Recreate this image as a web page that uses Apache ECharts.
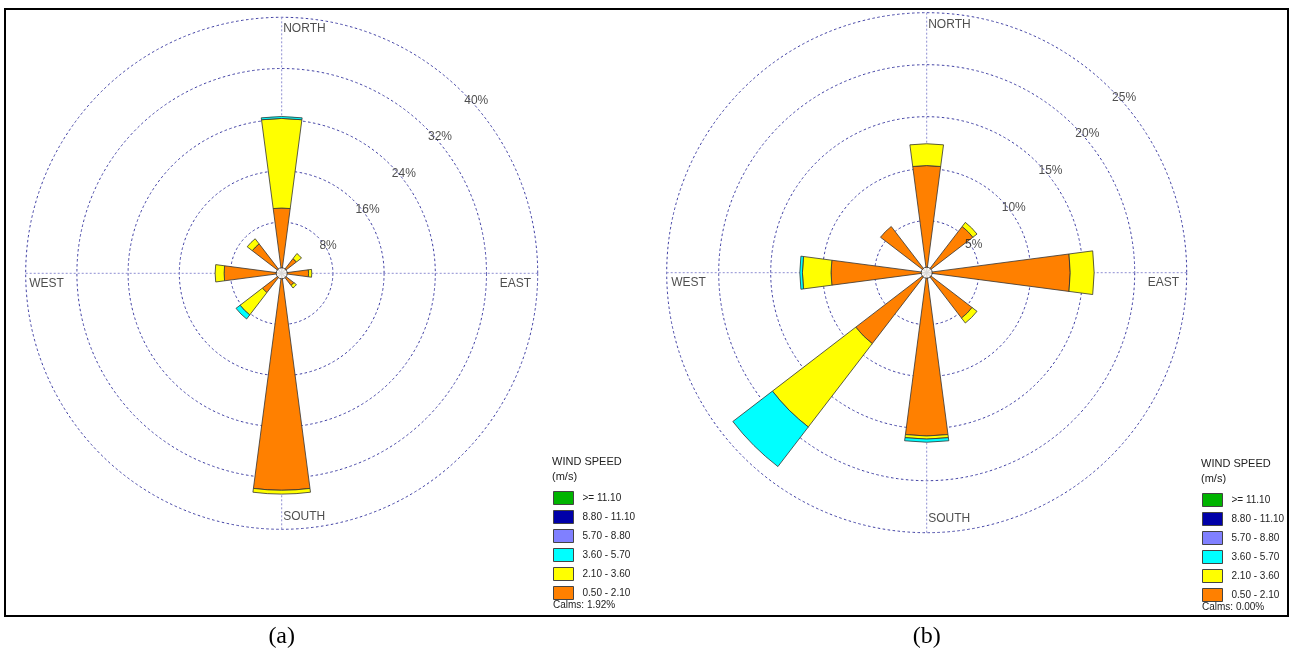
<!DOCTYPE html>
<html>
<head>
<meta charset="utf-8">
<script src="https://cdn.jsdelivr.net/npm/echarts@6/dist/echarts.min.js"></script>
<style>
  html, body { margin: 0; padding: 0; background: #ffffff; }
  #chart { width: 1293px; height: 653px; }
</style>
</head>
<body>
<div id="chart"></div>
<script>
// Compass sectors (clockwise from north) and their printed names
const directions = ['N', 'NE', 'E', 'SE', 'S', 'SW', 'W', 'NW'];
const compassNames = { N: 'NORTH', E: 'EAST', S: 'SOUTH', W: 'WEST' };

// Wind speed classes (m/s), innermost first
const speedClasses = ['0.50 - 2.10', '2.10 - 3.60', '3.60 - 5.70', '5.70 - 8.80', '8.80 - 11.10', '>= 11.10'];
const speedColors  = ['#FF8000', '#FFFF00', '#00FFFF', '#8080FF', '#0000A8', '#00B400'];

// Rose (a): frequency (%) per direction for each speed class
const a_0050_0210 = [10.2, 2.9, 4.2, 2.4, 33.9, 3.8, 9.0, 5.8];
const a_0210_0360 = [14.0, 1.0, 0.5, 0.5, 0.6, 4.4, 1.4, 1.0];
const a_0360_0570 = [0.3, 0, 0, 0, 0, 0.8, 0, 0];
const a_0570_0880 = [0, 0, 0, 0, 0, 0, 0, 0];
const a_0880_1110 = [0, 0, 0, 0, 0, 0, 0, 0];
const a_1110_up   = [0, 0, 0, 0, 0, 0, 0, 0];
const a_rings = [8, 16, 24, 32, 40];
const a_calms = '1.92%';

// Rose (b): frequency (%) per direction for each speed class
const b_0050_0210 = [10.3, 5.6, 13.8, 5.5, 15.7, 8.6, 9.2, 5.6];
const b_0210_0360 = [2.1, 0.5, 2.3, 0.6, 0.3, 10.1, 2.75, 0];
const b_0360_0570 = [0, 0, 0, 0, 0.3, 4.8, 0.25, 0];
const b_0570_0880 = [0, 0, 0, 0, 0, 0, 0, 0];
const b_0880_1110 = [0, 0, 0, 0, 0, 0, 0, 0];
const b_1110_up   = [0, 0, 0, 0, 0, 0, 0, 0];
const b_rings = [5, 10, 15, 20, 25];
const b_calms = '0.00%';

const SANS = '"Liberation Sans", Arial, sans-serif';
const SERIF = '"Liberation Serif", "Times New Roman", serif';

const roses = [
  {
    classes: [a_0050_0210, a_0210_0360, a_0360_0570, a_0570_0880, a_0880_1110, a_1110_up],
    rings: a_rings, calms: a_calms, caption: '(a)',
    center: [281.7, 273.3], radius: 256,
    legendX: 553, legendY: 491,
    compassOffset: { N: [2, 6], S: [2, -6], W: [4, 5], E: [-6, 5] }
  },
  {
    classes: [b_0050_0210, b_0210_0360, b_0360_0570, b_0570_0880, b_0880_1110, b_1110_up],
    rings: b_rings, calms: b_calms, caption: '(b)',
    center: [926.7, 272.7], radius: 260,
    legendX: 1202, legendY: 493,
    compassOffset: { N: [2, 6], S: [2, -8], W: [5, 4], E: [-7, 4] }
  }
];

const hidden = { show: false };
const polar = [], angleAxis = [], radiusAxis = [], series = [], legend = [], graphic = [];

// polars 0..1 carry the wedges; polars 2..3 draw the rings and the cardinal cross
roses.forEach((rose) => polar.push({ center: rose.center, radius: [0, rose.radius] }));
roses.forEach((rose) => polar.push({ center: rose.center, radius: [0, rose.radius] }));

roses.forEach((rose, i) => {
  const maxRing = rose.rings[rose.rings.length - 1];
  const gridIndex = roses.length + i;

  // sector axes
  angleAxis.push({
    polarIndex: i,
    type: 'category',
    data: directions,
    boundaryGap: false,
    startAngle: 90,
    clockwise: true,
    axisLine: hidden, axisTick: hidden, axisLabel: hidden, splitLine: hidden
  });
  radiusAxis.push({
    polarIndex: i,
    type: 'value',
    min: 0,
    max: maxRing,
    interval: rose.rings[0],
    axisLine: hidden, axisTick: hidden, axisLabel: hidden, splitLine: hidden
  });

  // grid axes: dashed percentage rings and dotted N-S / E-W lines
  angleAxis.push({
    polarIndex: gridIndex,
    type: 'value',
    min: 0,
    max: 360,
    interval: 90,
    startAngle: 90,
    clockwise: true,
    axisLine: hidden, axisTick: hidden, axisLabel: hidden,
    splitLine: { show: true, lineStyle: { color: '#8e8ed2', width: 1, type: [2, 2] } },
    z: 1
  });
  radiusAxis.push({
    polarIndex: gridIndex,
    type: 'value',
    min: 0,
    max: maxRing,
    interval: rose.rings[0],
    axisLine: hidden, axisTick: hidden, axisLabel: hidden,
    splitLine: { show: true, lineStyle: { color: '#4040a4', width: 1, type: [2.5, 2.5] } },
    z: 1
  });

  // stacked speed-class wedges
  rose.classes.forEach((values, k) => {
    series.push({
      type: 'bar',
      name: speedClasses[k],
      coordinateSystem: 'polar',
      polarIndex: i,
      stack: 'rose' + i,
      barWidth: '33.3%',
      silent: true,
      z: 3,
      itemStyle: { color: speedColors[k], borderColor: '#333333', borderWidth: 0.8 },
      data: values.map(v => (v > 0 ? v : '-'))
    });
  });

  // percentage labels along the north-east diagonal
  series.push({
    type: 'scatter',
    name: 'rings' + i,
    coordinateSystem: 'polar',
    polarIndex: i,
    silent: true,
    symbol: 'circle',
    symbolSize: 1,
    itemStyle: { color: 'rgba(0,0,0,0)' },
    z: 4,
    label: {
      show: true,
      position: [2, 3],
      align: 'left',
      verticalAlign: 'top',
      fontFamily: SANS,
      fontSize: 12,
      color: '#222222',
      formatter: (p) => p.value[0] + '%'
    },
    data: rose.rings.map(v => [v, 'NE'])
  });

  // compass names just inside the outer ring
  series.push({
    type: 'scatter',
    name: 'compass' + i,
    coordinateSystem: 'polar',
    polarIndex: i,
    silent: true,
    symbol: 'circle',
    symbolSize: 1,
    itemStyle: { color: 'rgba(0,0,0,0)' },
    z: 4,
    label: {
      show: true,
      fontFamily: SANS,
      fontSize: 12,
      color: '#222222',
      formatter: '{b}'
    },
    data: Object.keys(compassNames).map(d => ({
      name: compassNames[d],
      value: [maxRing, d],
      label: {
        position: rose.compassOffset[d],
        align: d === 'E' ? 'right' : 'left',
        verticalAlign: d === 'S' ? 'bottom' : 'top'
      }
    }))
  });

  // calm circle at the hub
  series.push({
    type: 'scatter',
    name: 'calm' + i,
    coordinateSystem: 'polar',
    polarIndex: i,
    silent: true,
    symbol: 'circle',
    symbolSize: 11,
    z: 6,
    itemStyle: { color: '#ffffff', borderColor: '#222222', borderWidth: 1 },
    data: [[0, 'N']]
  });

  legend.push({
    orient: 'vertical',
    left: rose.legendX,
    top: rose.legendY,
    padding: 0,
    data: speedClasses.slice().reverse(),
    icon: 'rect',
    itemWidth: 20,
    itemHeight: 13,
    itemGap: 5,
    selectedMode: false,
    itemStyle: { borderColor: '#444444', borderWidth: 1 },
    textStyle: { fontFamily: SANS, fontSize: 10, color: '#222222', padding: [0, 0, 0, 4] }
  });

  graphic.push({
    type: 'text',
    x: rose.legendX - 1,
    y: rose.legendY - 37,
    silent: true,
    style: {
      text: 'WIND SPEED\n(m/s)',
      fontFamily: SANS,
      fontSize: 11,
      lineHeight: 15,
      fill: '#222222',
      align: 'left',
      verticalAlign: 'top'
    }
  });
  graphic.push({
    type: 'text',
    x: rose.legendX,
    y: rose.legendY + 114,
    silent: true,
    style: {
      text: 'Calms: ' + rose.calms,
      fontFamily: SANS,
      fontSize: 10,
      fill: '#222222',
      align: 'left',
      verticalAlign: 'middle'
    }
  });
  graphic.push({
    type: 'text',
    x: rose.center[0],
    y: 637,
    silent: true,
    style: {
      text: rose.caption,
      fontFamily: SERIF,
      fontSize: 24,
      fill: '#000000',
      align: 'center',
      verticalAlign: 'middle'
    }
  });
});

// frame around both roses
graphic.push({
  type: 'rect',
  silent: true,
  shape: { x: 5, y: 9, width: 1283, height: 607 },
  style: { fill: 'none', stroke: '#000000', lineWidth: 2 }
});

const chart = echarts.init(document.getElementById('chart'), null, { renderer: 'canvas' });
chart.setOption({
  backgroundColor: '#ffffff',
  animation: false,
  polar, angleAxis, radiusAxis, legend, series, graphic
});
</script>
</body>
</html>
